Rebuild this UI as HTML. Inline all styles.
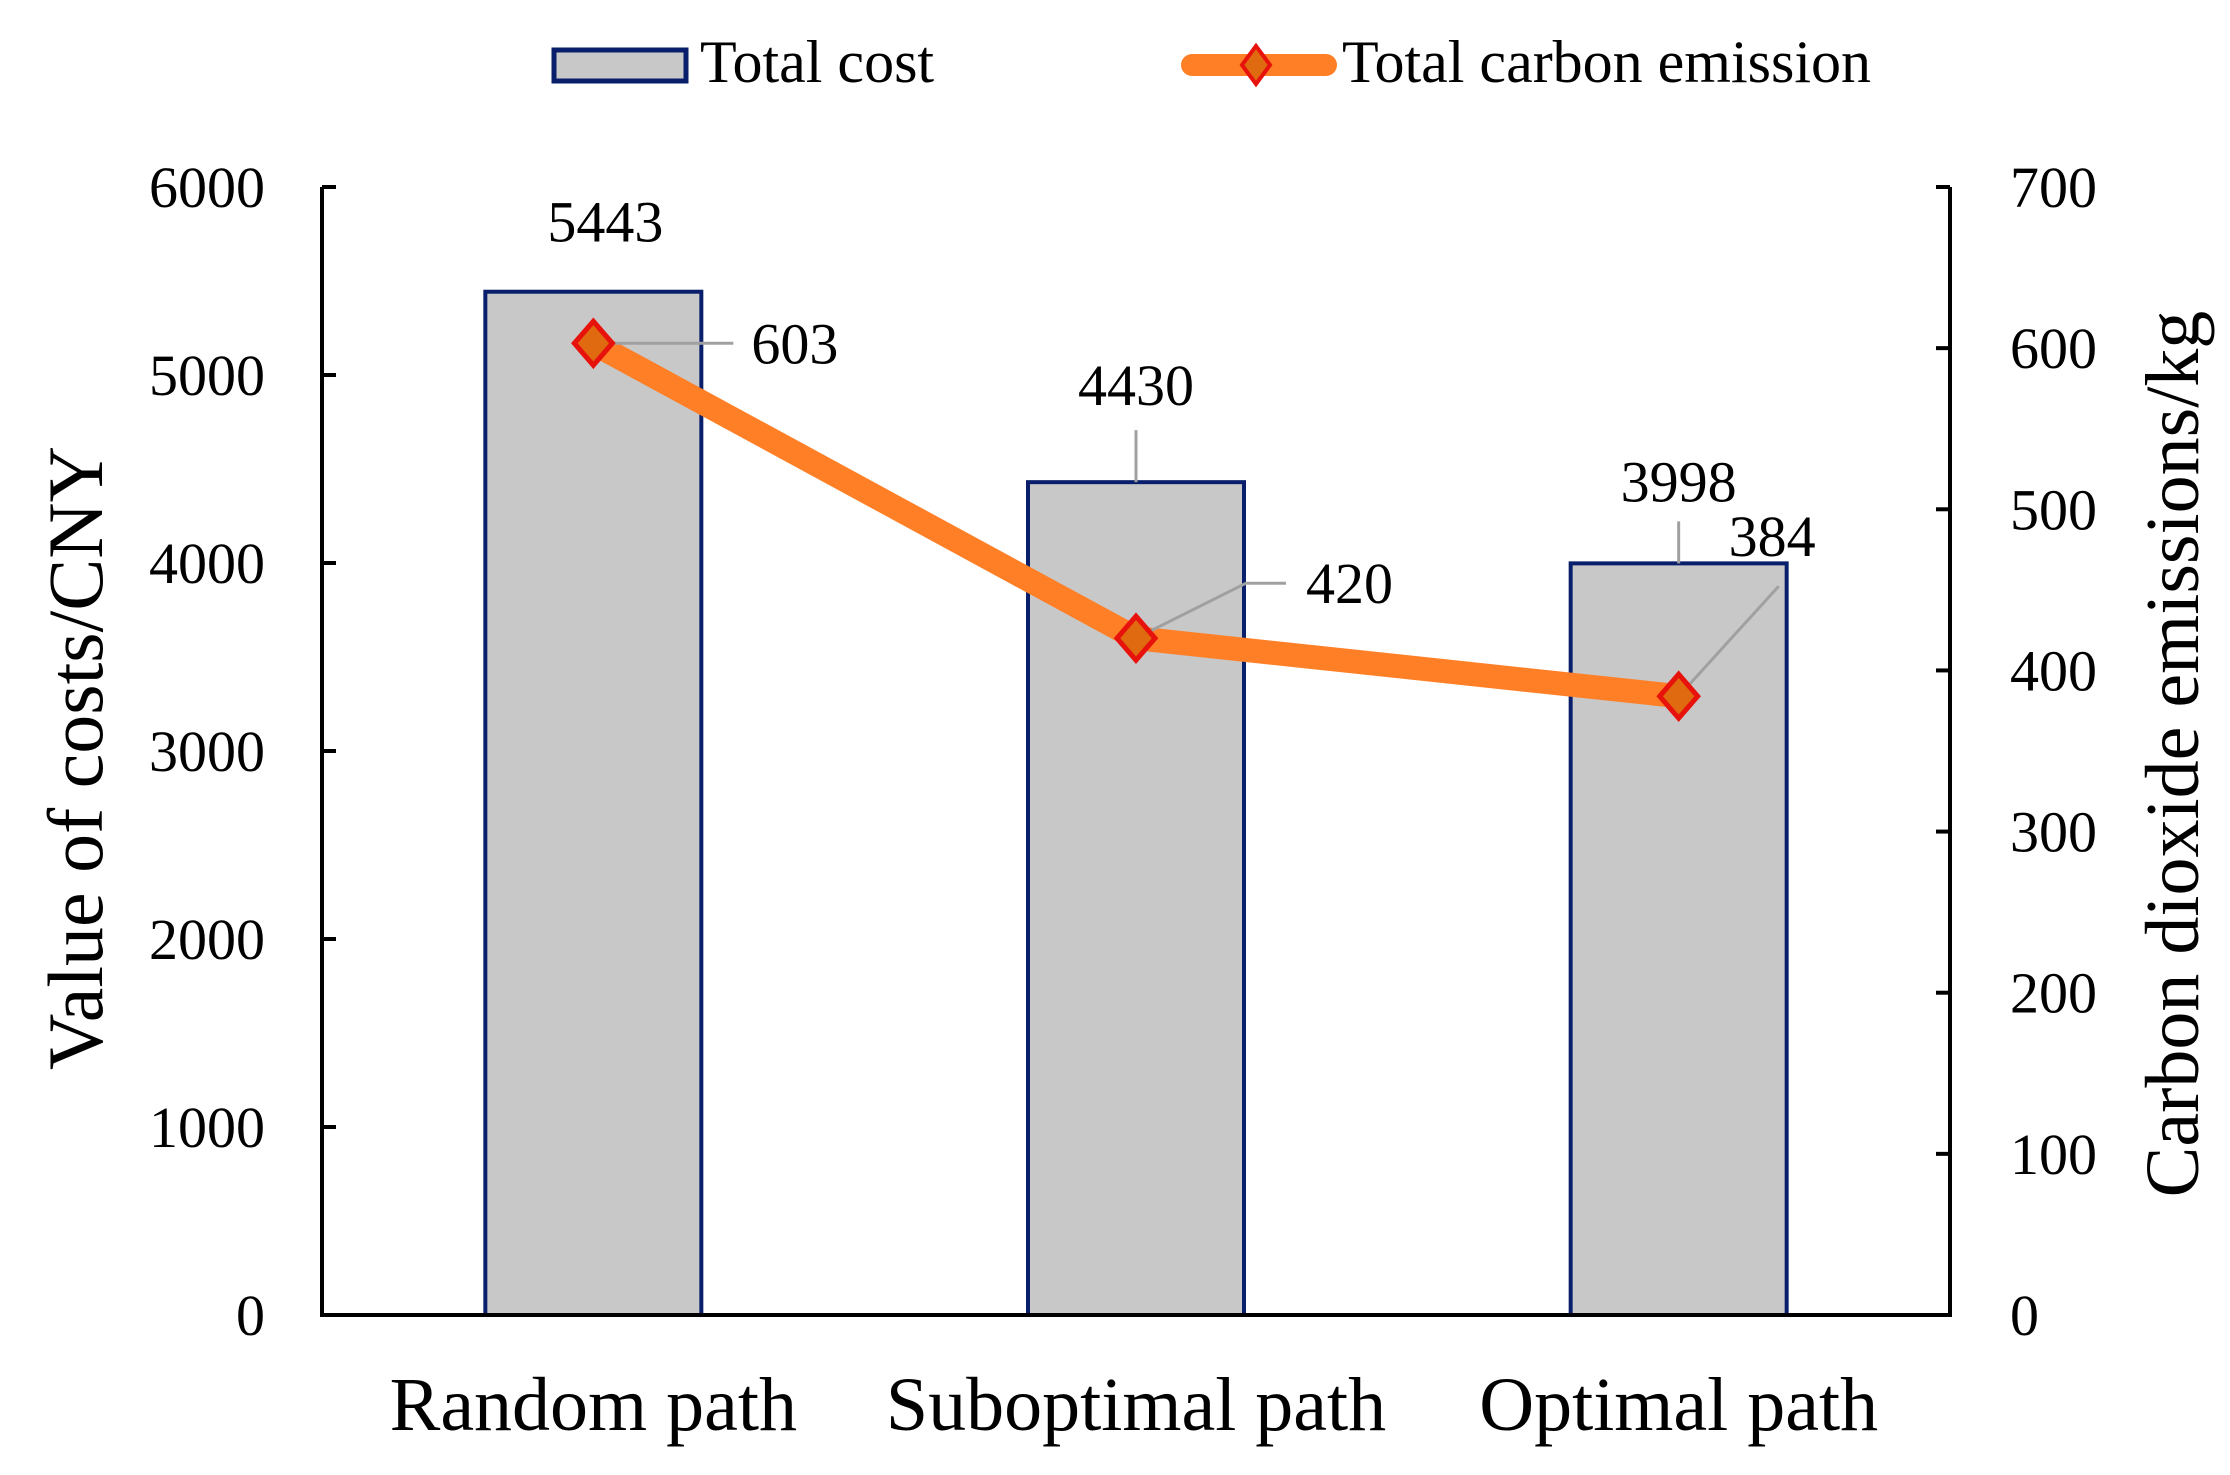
<!DOCTYPE html>
<html><head><meta charset="utf-8"><style>
html,body{margin:0;padding:0;background:#fff;}
svg{display:block;font-family:"Liberation Serif",serif;}
</style></head><body>
<svg id="chart" width="2230" height="1475" viewBox="0 0 2230 1475">
  <g>
    <rect x="554" y="50" width="132" height="31" fill="#c8c8c8" stroke="#0a1f6b" stroke-width="5"/>
    <text x="700" y="82" font-size="60">Total cost</text>
    <line x1="1192" y1="65" x2="1326" y2="65" stroke="#ff7f27" stroke-width="22" stroke-linecap="round"/>
    <polygon points="1256,46 1270,65 1256,84 1242,65" fill="#e06a10" stroke="#e8120c" stroke-width="4"/>
    <text x="1342" y="82" font-size="60">Total carbon emission</text>
  </g>
  <g id="plot"></g>
  <text transform="translate(102 758) rotate(-90)" text-anchor="middle" font-size="78">Value of costs/CNY</text>
  <text transform="translate(2198 754) rotate(-90)" text-anchor="middle" font-size="76">Carbon dioxide emissions/kg</text>
</svg>
<script>
const categories = ["Random path", "Suboptimal path", "Optimal path"];
const costValues = [5443, 4430, 3998];
const emissionValues = [603, 420, 384];
const leftTicks = [0, 1000, 2000, 3000, 4000, 5000, 6000];
const rightTicks = [0, 100, 200, 300, 400, 500, 600, 700];

const NS = "http://www.w3.org/2000/svg";
const plot = document.getElementById("plot");
const X0 = 322, X1 = 1950, Y0 = 1315, Y1 = 187;
const yL = v => Y0 - (v / 6000) * (Y0 - Y1);
const yR = v => Y0 - (v / 700) * (Y0 - Y1);
const band = (X1 - X0) / categories.length;
const xC = i => X0 + band * (i + 0.5);
const barW = 216;

function mk(tag, attrs, parent) {
  const e = document.createElementNS(NS, tag);
  for (const k in attrs) e.setAttribute(k, attrs[k]);
  (parent || plot).appendChild(e);
  return e;
}
function txt(x, y, s, size, anchor) {
  const t = mk("text", {x: x, y: y, "font-size": size, "text-anchor": anchor || "middle"});
  t.textContent = s;
  return t;
}

costValues.forEach((v, i) => {
  const b = mk("rect", {x: xC(i) - barW / 2, y: yL(v), width: barW, height: Y0 - yL(v), fill: "#c8c8c8", stroke: "#0a1f6b", "stroke-width": 4});
  
  
});

const ax = mk("path", {d: `M${X0},${Y1} V${Y0} H${X1} V${Y1}`, fill: "none", stroke: "#000", "stroke-width": 4});



leftTicks.forEach(v => {
  const y = yL(v);
  const tk = mk("line", {x1: X0, x2: X0 + 14, y1: y, y2: y, stroke: "#000", "stroke-width": 4});
  
  
  const t = txt(265, y + 20, String(v), 58, "end");
  
  
});
rightTicks.forEach(v => {
  const y = yR(v);
  const tk = mk("line", {x1: X1 - 14, x2: X1, y1: y, y2: y, stroke: "#000", "stroke-width": 4});
  
  
  const t = txt(2010, y + 20, String(v), 58, "start");
  
  
});
categories.forEach((c, i) => {
  const t = txt(xC(i), 1430, c, 76);
  
  
});

costValues.forEach((v, i) => {
  const x = xC(i), y = yL(v);
  if (i > 0) {
    const l = mk("line", {x1: x, x2: x, y1: y, y2: y - (i === 1 ? 52 : 42), stroke: "#a0a0a0", "stroke-width": 3});
    
    
  }
  const ty = i === 0 ? y - 50 : y - (i === 1 ? 77 : 62);
  const t = txt(i === 0 ? x + 12 : x, ty, String(v), 58);
  
  
});

const pts = emissionValues.map((v, i) => `${xC(i)},${yR(v)}`).join(" ");
const pl = mk("polyline", {points: pts, fill: "none", stroke: "#ff7f27", "stroke-width": 24, "stroke-linejoin": "round"});



const lbl = [
  {dx: 140, dy: 0, tx: 158, ty: 20, lx: 140, ly: 0},
  {dx: 110, dy: -55, tx: 170, ty: -35, lx: 150, ly: -55},
  {dx: 100, dy: -110, tx: 50, ty: -140, lx: 100, ly: -110}
];
emissionValues.forEach((v, i) => {
  const x = xC(i), y = yR(v), L = lbl[i];
  const d = i === 1 ? `M${x},${y} L${x + L.dx},${y + L.dy} H${x + L.lx}` : `M${x},${y} L${x + L.dx},${y + L.dy}`;
  const p = mk("path", {d: d, fill: "none", stroke: "#a0a0a0", "stroke-width": 3});
  
  
});
emissionValues.forEach((v, i) => {
  const x = xC(i), y = yR(v);
  const m = mk("polygon", {points: `${x},${y - 22} ${x + 19},${y} ${x},${y + 22} ${x - 19},${y}`, fill: "#e06a10", stroke: "#e8120c", "stroke-width": 5});
  
  
  const L = lbl[i];
  const t = txt(x + L.tx, y + L.ty, String(v), 58, "start");
  
  
});
</script>
</body></html>
